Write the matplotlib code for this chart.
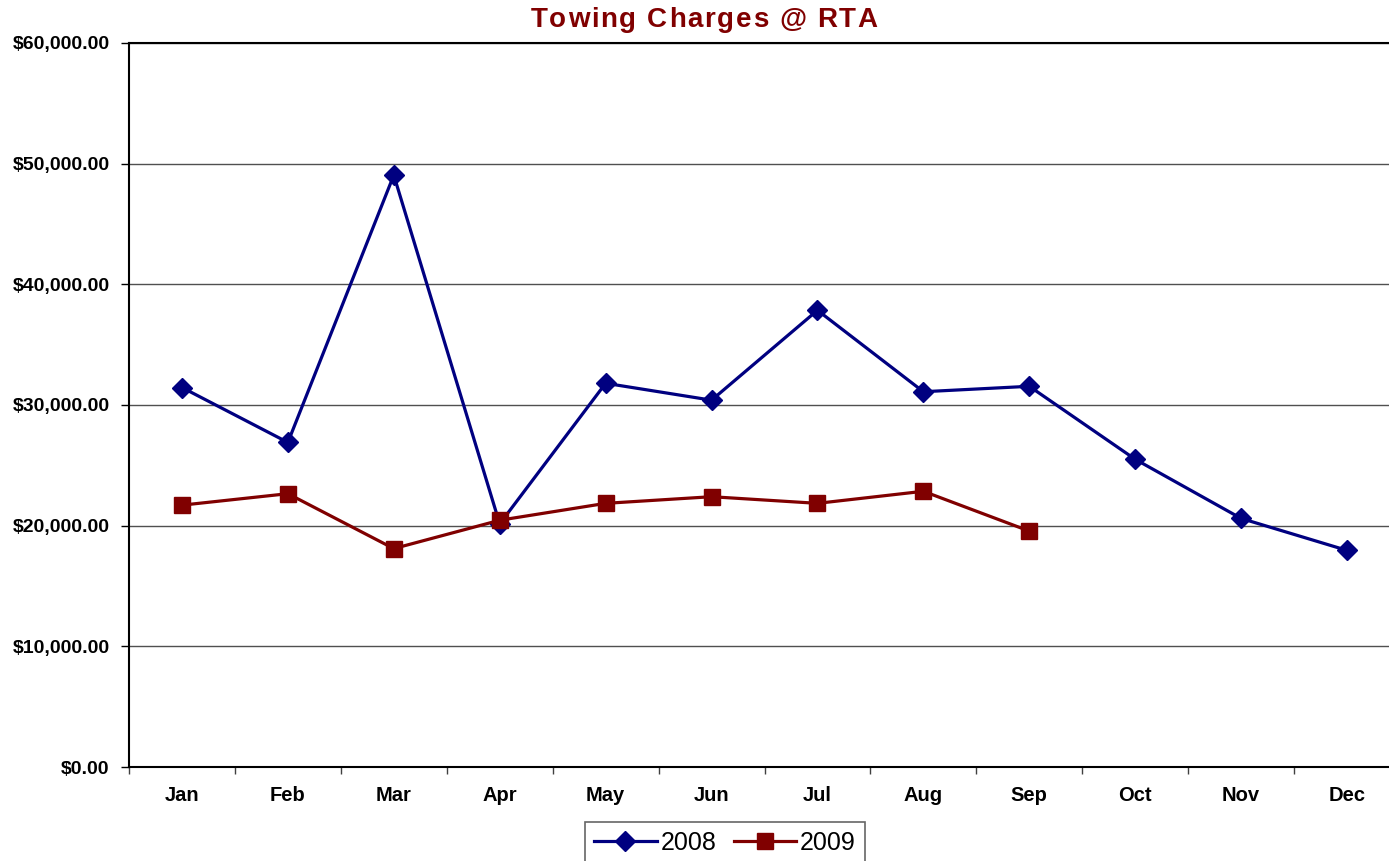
import matplotlib
matplotlib.use("Agg")
import matplotlib.pyplot as plt
from matplotlib.ticker import FuncFormatter, FixedLocator

plt.rcParams['font.family'] = ['Liberation Sans', 'DejaVu Sans']

# data
months = ["Jan", "Feb", "Mar", "Apr", "May", "Jun",
          "Jul", "Aug", "Sep", "Oct", "Nov", "Dec"]
charges_2008 = [31450, 26900, 49050, 20150, 31800, 30400,
                37850, 31100, 31550, 25500, 20600, 17950]
charges_2009 = [21700, 22650, 18100, 20450, 21850, 22400,
                21850, 22850, 19550]

NAVY = "#000080"
MAROON = "#800000"


def spaced_text(fig, x, y, s, spacing, **kw):
    # draw text char by char so the letters get some extra room (centered at x)
    r = fig.canvas.get_renderer()
    widths = []
    for ch in s:
        t = fig.text(0, 0, ch if ch != " " else "a", **kw)
        w = t.get_window_extent(r).width
        if ch == " ":
            w *= 0.5
        widths.append(w)
        t.remove()
    total = sum(widths) + spacing * (len(s) - 1)
    W = fig.get_figwidth() * fig.dpi
    cur = x * W - total / 2
    for ch, w in zip(s, widths):
        if ch != " ":
            fig.text(cur / W, y, ch, ha="left", **kw)
        cur += w + spacing


fig = plt.figure(figsize=(13.89, 8.61), dpi=100)
ax = fig.add_axes([129 / 1389, 94 / 861, 1271 / 1389, 724 / 861])

x = list(range(len(months)))
ax.plot(x, charges_2008, color=NAVY, lw=2.3, marker="D", ms=10,
        label="2008", zorder=3)
ax.plot(x[:len(charges_2009)], charges_2009, color=MAROON, lw=2.3,
        marker="s", ms=12, label="2009", zorder=3)

ax.set_xlim(-0.5, 11.5)
ax.set_ylim(0, 60000)
ax.set_yticks(range(0, 60001, 10000))
ax.yaxis.set_major_formatter(FuncFormatter(lambda v, p: "${:,.2f}".format(v)))
ax.grid(axis="y", color="#505050", lw=1)
ax.set_axisbelow(True)

ax.set_xticks(x)
ax.set_xticklabels(months)
ax.xaxis.set_minor_locator(FixedLocator([i - 0.5 for i in range(13)]))
ax.tick_params(axis="x", which="major", length=0, pad=14)
ax.tick_params(axis="x", which="minor", length=5, width=1, color="#404040")
ax.tick_params(axis="y", length=6, width=1, pad=8)
for lab in ax.get_xticklabels() + ax.get_yticklabels():
    lab.set_fontweight("bold")
    lab.set_fontsize(14)
for lab in ax.get_xticklabels():
    lab.set_fontsize(14.5)

for sp in ["left", "bottom", "top"]:
    ax.spines[sp].set_linewidth(1.5)
ax.spines["right"].set_visible(False)

leg = ax.legend(loc="lower center", bbox_to_anchor=(725 / 1389, -0.018),
                bbox_transform=fig.transFigure, ncol=2, fontsize=18,
                frameon=True, fancybox=False, edgecolor="#404040",
                handlelength=2.5, handletextpad=0.15, columnspacing=0.7,
                borderpad=0.35)
leg.get_frame().set_linewidth(1.2)

spaced_text(fig, 704 / 1389, 0.977, "Towing Charges @ RTA", 1.7,
            fontsize=20, fontweight="bold", color=MAROON, va="center")

fig.savefig("out.png", dpi=100)
